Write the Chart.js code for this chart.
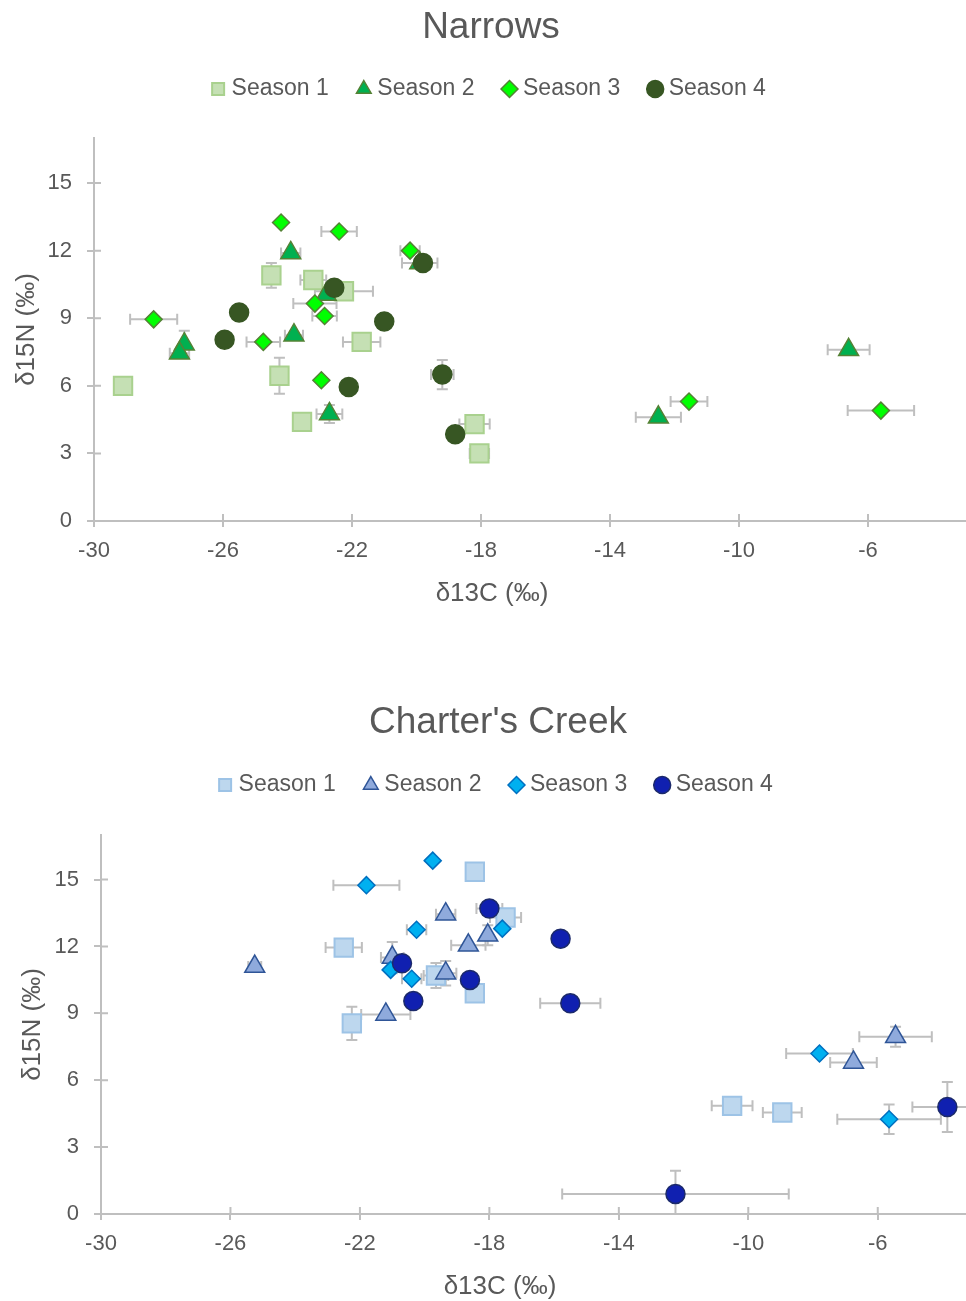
<!DOCTYPE html>
<html>
<head>
<meta charset="utf-8">
<script src="https://cdn.jsdelivr.net/npm/chart.js@4.4.1/dist/chart.umd.min.js"></script>
<style>
  html, body { margin: 0; padding: 0; background: #fff; overflow: hidden; width: 966px; height: 1301px; }
  .box { position: absolute; left: 0; }
  /* the original plot runs off the right edge of the picture, so the canvases do too */
  #narrowsBox { top: 0; width: 982px; height: 650px; }
  #creekBox { top: 695px; width: 996px; height: 606px; }
</style>
</head>
<body>
<div class="box" id="narrowsBox"><canvas id="narrowsChart"></canvas></div>
<div class="box" id="creekBox"><canvas id="creekChart"></canvas></div>
<script>
// --- DATA ---
// each point is [d13C, d15N, d13C error, d15N error]
const narrowsSeason1 = [
  [-29.1, 6.0, 0, 0], [-24.5, 10.9, 0, 0.55], [-23.2, 10.7, 0.4, 0], [-22.25, 10.2, 0.9, 0],
  [-21.7, 7.95, 0.58, 0], [-24.25, 6.45, 0, 0.8], [-23.55, 4.4, 0, 0], [-18.2, 4.3, 0.47, 0],
  [-18.05, 3.0, 0.3, 0]
];
const narrowsSeason2 = [
  [-27.2, 7.85, 0, 0.6], [-27.35, 7.45, 0.3, 0], [-23.9, 11.9, 0.3, 0], [-23.8, 8.25, 0.28, 0],
  [-22.8, 10.05, 0, 0], [-22.7, 4.75, 0.4, 0.4], [-19.9, 11.45, 0.55, 0], [-12.5, 4.6, 0.7, 0],
  [-6.6, 7.6, 0.65, 0]
];
const narrowsSeason3 = [
  [-28.15, 8.95, 0.73, 0], [-24.2, 13.25, 0, 0], [-22.4, 12.85, 0.55, 0], [-24.75, 7.95, 0.52, 0],
  [-23.15, 9.65, 0.67, 0], [-22.85, 9.1, 0.38, 0], [-22.95, 6.25, 0, 0], [-20.2, 12.0, 0.3, 0],
  [-11.55, 5.3, 0.57, 0], [-5.6, 4.9, 1.03, 0]
];
const narrowsSeason4 = [
  [-25.95, 8.05, 0, 0], [-25.5, 9.25, 0, 0], [-22.55, 10.35, 0, 0], [-22.1, 5.95, 0, 0],
  [-21.0, 8.85, 0, 0], [-19.8, 11.45, 0, 0], [-19.2, 6.5, 0.35, 0.65], [-18.8, 3.85, 0, 0]
];

const creekSeason1 = [
  [-18.45, 15.35, 0, 0], [-22.5, 11.95, 0.56, 0], [-22.25, 8.55, 0, 0.75], [-19.65, 10.7, 0.38, 0.56],
  [-18.45, 9.9, 0, 0], [-17.5, 13.3, 0.48, 0], [-10.5, 4.85, 0.63, 0], [-8.95, 4.55, 0.6, 0]
];
const creekSeason2 = [
  [-25.25, 11.1, 0.2, 0], [-21.2, 8.95, 0.76, 0], [-21.0, 11.5, 0.35, 0.7], [-19.35, 10.8, 0.33, 0.55],
  [-19.35, 13.45, 0.3, 0], [-18.65, 12.05, 0.53, 0], [-18.05, 12.5, 0, 0.45], [-6.75, 6.8, 0.72, 0],
  [-5.45, 7.95, 1.12, 0.45]
];
const creekSeason3 = [
  [-19.75, 15.85, 0, 0], [-21.8, 14.75, 1.02, 0], [-20.25, 12.75, 0.3, 0], [-17.6, 12.8, 0, 0],
  [-21.05, 10.95, 0, 0], [-20.4, 10.55, 0.3, 0], [-7.8, 7.2, 1.03, 0], [-5.65, 4.25, 1.6, 0.66]
];
const creekSeason4 = [
  [-18.0, 13.7, 0.4, 0], [-20.7, 11.25, 0, 0], [-18.6, 10.5, 0, 0], [-20.35, 9.55, 0, 0],
  [-15.8, 12.35, 0, 0], [-15.5, 9.45, 0.93, 0], [-3.85, 4.8, 1.08, 1.12], [-12.25, 0.9, 3.5, 1.04]
];

const seasonLabels = ['Season 1', 'Season 2', 'Season 3', 'Season 4'];
const xTicks = [-30, -26, -22, -18, -14, -10, -6];
const xTickLabels = ['-30', '-26', '-22', '-18', '-14', '-10', '-6'];
const yTicks = [0, 3, 6, 9, 12, 15];
const yTickLabels = ['0', '3', '6', '9', '12', '15'];

// --- STYLE ---
const FONT = "'Liberation Sans', Arial, sans-serif";
const TEXT = '#595959';
const AXIS = '#bfbfbf';
Chart.defaults.font.family = FONT;
Chart.defaults.color = TEXT;

// marker look per season: shape, radius, fill, border
const narrowsMarkers = [
  ['rect', 13, '#c5e0b4', '#a9d18e'],
  ['triangle', 11.5, '#00b050', '#548235'],
  ['rectRot', 8.5, '#00ff00', '#548235'],
  ['circle', 9.5, '#375623', '#375623']
];
const creekMarkers = [
  ['rect', 13, '#bdd7ee', '#9dc3e6'],
  ['triangle', 11.5, '#8faadc', '#2f5597'],
  ['rectRot', 8.5, '#00b0f0', '#0070c0'],
  ['circle', 9.5, '#1020b0', '#1c2a6a']
];

// Chart.js has no error bars, so draw them (and the inner half of the tick marks) ourselves
const errorBars = {
  id: 'errorBars',
  beforeLayout(chart, args, opts) {
    // leave a gap under the legend, like the original
    const lg = chart.legend;
    if (lg && !lg._gapPatched) {
      const fit = lg.fit;
      lg.fit = function () { fit.call(this); this.height += opts.legendGap || 0; };
      lg._gapPatched = true;
    }
  },
  beforeDatasetsDraw(chart) {
    const { ctx, chartArea: a, scales: { x, y } } = chart;
    const cap = 5.5;
    ctx.save();
    ctx.strokeStyle = AXIS;
    ctx.lineWidth = 2;

    // tick marks crossing into the plot
    ctx.beginPath();
    x.ticks.forEach(t => { const px = x.getPixelForValue(t.value); ctx.moveTo(px, a.bottom - 7); ctx.lineTo(px, a.bottom); });
    y.ticks.forEach(t => { const py = y.getPixelForValue(t.value); ctx.moveTo(a.left, py); ctx.lineTo(a.left + 7, py); });
    ctx.stroke();

    ctx.beginPath();
    ctx.rect(a.left, a.top, a.right - a.left, a.bottom - a.top);
    ctx.clip();
    chart.data.datasets.forEach(ds => {
      ds.data.forEach(p => {
        const px = x.getPixelForValue(p.x);
        const py = y.getPixelForValue(p.y);
        ctx.beginPath();
        if (p.xErr) {
          const l = x.getPixelForValue(p.x - p.xErr);
          const r = x.getPixelForValue(p.x + p.xErr);
          ctx.moveTo(l, py); ctx.lineTo(r, py);
          ctx.moveTo(l, py - cap); ctx.lineTo(l, py + cap);
          ctx.moveTo(r, py - cap); ctx.lineTo(r, py + cap);
        }
        if (p.yErr) {
          const t = y.getPixelForValue(p.y + p.yErr);
          const b = y.getPixelForValue(p.y - p.yErr);
          ctx.moveTo(px, t); ctx.lineTo(px, b);
          ctx.moveTo(px - cap, t); ctx.lineTo(px + cap, t);
          ctx.moveTo(px - cap, b); ctx.lineTo(px + cap, b);
        }
        ctx.stroke();
      });
    });
    ctx.restore();
  },
  afterDraw(chart, args, opts) {
    // x axis title sits left of the scale centre in the original, so place it by hand
    const { ctx, chartArea: a } = chart;
    ctx.save();
    ctx.fillStyle = TEXT;
    ctx.font = '26px ' + FONT;
    ctx.textAlign = 'center';
    ctx.textBaseline = 'middle';
    ctx.fillText('δ13C (‰)', opts.titleX, a.bottom + opts.titleDrop);
    ctx.restore();
  }
};

function buildChart(canvasId, titleText, series, markers, box) {
  const datasets = series.map((points, i) => ({
    label: seasonLabels[i],
    data: points.map(p => ({ x: p[0], y: p[1], xErr: p[2], yErr: p[3] })),
    pointStyle: markers[i][0],
    pointRadius: markers[i][1],
    backgroundColor: markers[i][2],
    borderColor: markers[i][3],
    borderWidth: i === 0 ? 2 : 1.5,
    order: 3 - i // later seasons sit on top, like the original
  }));

  return new Chart(document.getElementById(canvasId), {
    type: 'scatter',
    data: { datasets },
    plugins: [errorBars],
    options: {
      responsive: true,
      maintainAspectRatio: false,
      animation: false,
      events: [],
      layout: { padding: { left: 0, right: 0, top: 0, bottom: box.bottom } },
      plugins: {
        errorBars: { legendGap: box.legendGap, titleX: box.titleX, titleDrop: box.titleDrop },
        title: {
          display: true, text: titleText, color: TEXT,
          font: { size: 37, weight: 'normal' },
          padding: { top: 5.5, bottom: box.titleBottom }
        },
        legend: {
          position: 'top',
          labels: {
            usePointStyle: true, boxWidth: 4, boxHeight: 12, padding: 33,
            color: TEXT, font: { size: 23 },
            sort: (a, b) => a.datasetIndex - b.datasetIndex
          }
        },
        tooltip: { enabled: false }
      },
      scales: {
        x: {
          type: 'linear', min: -30, max: box.xMax,
          afterBuildTicks: s => { s.ticks = xTicks.map(v => ({ value: v })); },
          afterFit: s => { s.height = 85; s.paddingRight = 0; },
          border: { color: AXIS, width: 2 },
          grid: { drawOnChartArea: false, color: AXIS, lineWidth: 2, tickLength: 6 },
          ticks: { color: TEXT, font: { size: 22 }, padding: 11, maxRotation: 0, callback: (v, i) => xTickLabels[i] }
        },
        y: {
          type: 'linear', min: 0, max: 17,
          afterBuildTicks: s => { s.ticks = yTicks.map(v => ({ value: v })); },
          afterFit: s => { s.width = box.left; },
          border: { color: AXIS, width: 2 },
          grid: { drawOnChartArea: false, color: AXIS, lineWidth: 2, tickLength: 7 },
          ticks: { color: TEXT, font: { size: 22 }, padding: 15, callback: (v, i) => yTickLabels[i] },
          title: { display: true, text: 'δ15N (‰)', color: TEXT, font: { size: 26 }, padding: { top: box.yTitlePad, bottom: 0 } }
        }
      }
    }
  });
}

buildChart('narrowsChart', 'Narrows',
  [narrowsSeason1, narrowsSeason2, narrowsSeason3, narrowsSeason4], narrowsMarkers,
  { left: 94, bottom: 44, xMax: -2.93, yTitlePad: 11.5, titleBottom: -5.4, legendGap: 27.5, titleX: 492, titleDrop: 73 });

buildChart('creekChart', "Charter's Creek",
  [creekSeason1, creekSeason2, creekSeason3, creekSeason4], creekMarkers,
  { left: 101, bottom: 2, xMax: -2.81, yTitlePad: 17.5, titleBottom: -4.4, legendGap: 28.5, titleX: 500, titleDrop: 73 });
</script>
</body>
</html>
